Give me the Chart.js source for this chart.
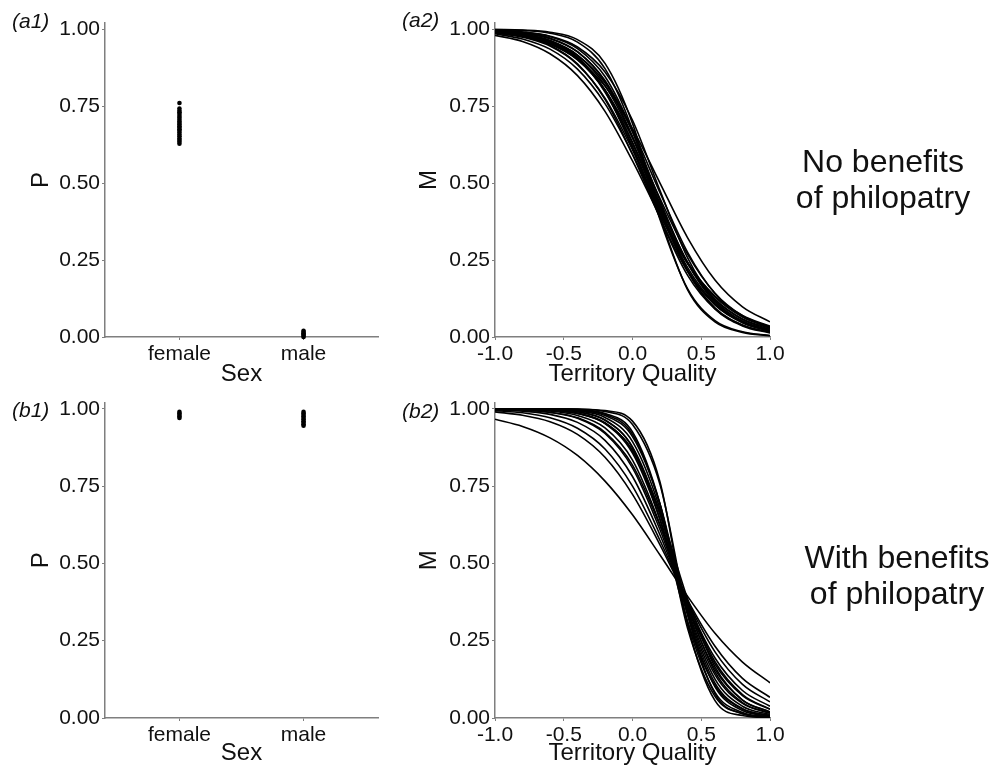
<!DOCTYPE html>
<html>
<head>
<meta charset="utf-8">
<title>Philopatry and dispersal</title>
<script src="https://cdn.jsdelivr.net/npm/chart.js@4.4.1/dist/chart.umd.min.js"></script>
<style>
  html, body { margin: 0; padding: 0; background: #fff; }
  body { position: relative; width: 994px; height: 768px; overflow: hidden;
         font-family: "Liberation Sans", Arial, sans-serif; color: #111; }
  canvas { position: absolute; }
  .tag { position: absolute; font-size: 21px; line-height: 21px; font-style: italic; }
  .scenario { position: absolute; width: 210px; text-align: center; font-size: 32px; line-height: 36px; }
</style>
</head>
<body>

<canvas id="a1" width="390" height="390" style="left:0;top:0"></canvas>
<canvas id="a2" width="404" height="390" style="left:390px;top:0"></canvas>
<canvas id="b1" width="390" height="380" style="left:0;top:388px"></canvas>
<canvas id="b2" width="404" height="380" style="left:390px;top:388px"></canvas>

<div class="tag" style="left:12px;top:10px">(a1)</div>
<div class="tag" style="left:402px;top:9px">(a2)</div>
<div class="tag" style="left:12px;top:399px">(b1)</div>
<div class="tag" style="left:402px;top:400px">(b2)</div>

<div class="scenario" style="left:778px;top:143px">No benefits<br>of philopatry</div>
<div class="scenario" style="left:792px;top:539px">With benefits<br>of philopatry</div>

<script>
var sexes = ['female', 'male'];
var pTicks = [0, 0.25, 0.5, 0.75, 1];
var qualityTicks = [-1, -0.5, 0, 0.5, 1];
var quality = [-1.0, -0.8, -0.6, -0.4, -0.2, 0.0, 0.2, 0.4, 0.6, 0.8, 1.0];

// philopatry P of each replicate run, by sex
var pFemaleNoBenefit = [0.760, 0.742, 0.735, 0.730, 0.724, 0.718, 0.712, 0.706, 0.700, 0.695,
  0.690, 0.685, 0.680, 0.675, 0.670, 0.664, 0.658, 0.652, 0.645, 0.640, 0.634, 0.628];
var pMaleNoBenefit = [0.000, 0.004, 0.008, 0.012, 0.016, 0.020];
var pFemaleWithBenefit = [0.970, 0.975, 0.980, 0.985, 0.990];
var pMaleWithBenefit = [0.945, 0.950, 0.955, 0.960, 0.965, 0.970, 0.975, 0.980, 0.985, 0.990];

// dispersal M against territory quality, one row per replicate run
var mNoBenefit = [
  [0.980, 0.960, 0.920, 0.849, 0.733, 0.572, 0.394, 0.240, 0.133, 0.070, 0.035],
  [0.985, 0.968, 0.935, 0.870, 0.758, 0.594, 0.406, 0.242, 0.130, 0.065, 0.032],
  [0.988, 0.976, 0.951, 0.902, 0.815, 0.677, 0.500, 0.323, 0.185, 0.098, 0.049],
  [0.990, 0.978, 0.953, 0.900, 0.802, 0.646, 0.450, 0.269, 0.142, 0.069, 0.032],
  [0.988, 0.974, 0.945, 0.885, 0.776, 0.608, 0.411, 0.239, 0.123, 0.059, 0.028],
  [0.991, 0.980, 0.955, 0.903, 0.800, 0.633, 0.427, 0.243, 0.122, 0.057, 0.025],
  [0.990, 0.977, 0.948, 0.887, 0.772, 0.593, 0.387, 0.214, 0.105, 0.048, 0.021],
  [0.993, 0.983, 0.962, 0.916, 0.826, 0.671, 0.469, 0.276, 0.141, 0.066, 0.030],
  [0.993, 0.982, 0.958, 0.904, 0.796, 0.619, 0.402, 0.218, 0.104, 0.046, 0.020],
  [0.993, 0.984, 0.963, 0.915, 0.817, 0.649, 0.434, 0.242, 0.117, 0.052, 0.022],
  [0.993, 0.983, 0.960, 0.908, 0.803, 0.629, 0.413, 0.226, 0.108, 0.048, 0.020],
  [0.994, 0.984, 0.962, 0.909, 0.799, 0.613, 0.387, 0.201, 0.091, 0.038, 0.016],
  [0.995, 0.987, 0.969, 0.926, 0.833, 0.666, 0.443, 0.241, 0.112, 0.048, 0.020],
  [0.996, 0.989, 0.971, 0.927, 0.830, 0.651, 0.417, 0.215, 0.095, 0.039, 0.015],
  [0.997, 0.991, 0.977, 0.942, 0.861, 0.704, 0.476, 0.258, 0.118, 0.048, 0.019],
  [0.997, 0.991, 0.976, 0.937, 0.846, 0.668, 0.426, 0.214, 0.091, 0.036, 0.013],
  [0.999, 0.996, 0.987, 0.958, 0.872, 0.673, 0.382, 0.157, 0.053, 0.017, 0.005],
  [0.999, 0.997, 0.990, 0.966, 0.889, 0.694, 0.392, 0.154, 0.049, 0.015, 0.004]
];
var mWithBenefit = [
  [0.966, 0.943, 0.906, 0.849, 0.766, 0.657, 0.527, 0.394, 0.274, 0.181, 0.114],
  [0.990, 0.979, 0.958, 0.917, 0.843, 0.723, 0.560, 0.382, 0.232, 0.128, 0.067],
  [0.994, 0.987, 0.971, 0.937, 0.870, 0.750, 0.574, 0.378, 0.214, 0.109, 0.052],
  [0.997, 0.992, 0.982, 0.956, 0.898, 0.781, 0.592, 0.371, 0.194, 0.089, 0.038],
  [0.998, 0.996, 0.988, 0.969, 0.920, 0.809, 0.609, 0.365, 0.174, 0.072, 0.028],
  [0.998, 0.996, 0.989, 0.971, 0.924, 0.818, 0.622, 0.378, 0.182, 0.076, 0.029],
  [0.999, 0.998, 0.993, 0.978, 0.938, 0.834, 0.626, 0.358, 0.157, 0.058, 0.020],
  [1.000, 0.999, 0.995, 0.985, 0.952, 0.857, 0.643, 0.352, 0.140, 0.047, 0.015],
  [1.000, 0.999, 0.996, 0.986, 0.955, 0.865, 0.659, 0.368, 0.149, 0.050, 0.016],
  [1.000, 0.998, 0.995, 0.985, 0.953, 0.865, 0.667, 0.386, 0.165, 0.058, 0.019],
  [1.000, 0.999, 0.997, 0.990, 0.963, 0.877, 0.660, 0.346, 0.126, 0.038, 0.011],
  [1.000, 0.999, 0.998, 0.991, 0.964, 0.874, 0.641, 0.314, 0.105, 0.029, 0.008],
  [1.000, 1.000, 0.998, 0.993, 0.972, 0.894, 0.676, 0.340, 0.113, 0.030, 0.008],
  [1.000, 1.000, 0.999, 0.995, 0.978, 0.910, 0.692, 0.334, 0.101, 0.024, 0.006],
  [1.000, 1.000, 0.999, 0.996, 0.982, 0.917, 0.690, 0.310, 0.083, 0.018, 0.004],
  [1.000, 1.000, 1.000, 0.997, 0.985, 0.925, 0.692, 0.291, 0.070, 0.014, 0.003],
  [1.000, 1.000, 1.000, 0.999, 0.991, 0.949, 0.755, 0.337, 0.078, 0.014, 0.002],
  [1.000, 1.000, 1.000, 0.999, 0.994, 0.960, 0.763, 0.304, 0.056, 0.008, 0.001]
];

var axisGrey = '#7f7f7f';
var ink = '#111';
var family = '"Liberation Sans", Arial, sans-serif';

function yAxis(title, titlePad) {
  return {
    min: 0,
    max: 1.02,
    afterBuildTicks: function (scale) {
      scale.ticks = pTicks.map(function (v) { return { value: v }; });
    },
    afterFit: function (scale) { scale.width = 105; },
    ticks: {
      color: ink, padding: 2, font: { family: family, size: 21 },
      callback: function (v) { return v.toFixed(2); }
    },
    grid: { drawOnChartArea: false, tickLength: 3, color: axisGrey },
    border: { color: axisGrey, width: 1.5 },
    title: {
      display: true, text: title, color: ink,
      font: { family: family, size: 24 },
      padding: { top: titlePad, bottom: 0 }
    }
  };
}

function xAxis(opts) {
  return {
    type: 'linear',
    min: opts.min,
    max: opts.max,
    afterBuildTicks: function (scale) {
      scale.ticks = opts.ticks.map(function (v) { return { value: v }; });
    },
    afterFit: function (scale) { scale.height = opts.height; },
    ticks: {
      color: ink, padding: 2, maxRotation: 0, autoSkip: false,
      font: { family: family, size: 21 },
      callback: opts.label
    },
    grid: { drawOnChartArea: false, tickLength: 3, color: axisGrey },
    border: { color: axisGrey, width: 1.5 },
    title: {
      display: true, text: opts.title, color: ink,
      font: { family: family, size: 24 },
      padding: { top: 0, bottom: opts.titlePad }
    }
  };
}

function sexLabel(v) { return sexes[v - 1]; }
function qualityLabel(v) { return v.toFixed(1); }

function stripSets(female, male) {
  return [female, male].map(function (vals, i) {
    return {
      data: vals.map(function (v) { return { x: i + 1, y: v }; }),
      backgroundColor: '#000',
      borderWidth: 0,
      pointRadius: 2.3,
      clip: false
    };
  });
}

function curveSets(rows) {
  return rows.map(function (row) {
    return {
      data: row.map(function (m, i) { return { x: quality[i], y: m }; }),
      showLine: true,
      borderColor: '#000',
      borderWidth: 1.6,
      pointRadius: 0,
      cubicInterpolationMode: 'monotone'
    };
  });
}

function draw(id, datasets, x, yTitle, yTitlePad, padding) {
  return new Chart(document.getElementById(id), {
    type: 'scatter',
    data: { datasets: datasets },
    options: {
      responsive: false,
      animation: false,
      events: [],
      layout: { padding: padding },
      plugins: { legend: { display: false }, tooltip: { enabled: false } },
      scales: { x: x, y: yAxis(yTitle, yTitlePad) }
    }
  });
}

var topPad = { left: 0, top: 23, bottom: 0 };
var lowPad = { left: 0, top: 14, bottom: 0 };

draw('a1', stripSets(pFemaleNoBenefit, pMaleNoBenefit),
  xAxis({ min: 0.4, max: 2.6, ticks: [1, 2], label: sexLabel, title: 'Sex', height: 53, titlePad: 1.6 }),
  'P', 26.6, Object.assign({ right: 12 }, topPad));

draw('a2', curveSets(mNoBenefit),
  xAxis({ min: -1, max: 1, ticks: qualityTicks, label: qualityLabel, title: 'Territory Quality', height: 53, titlePad: 1.6 }),
  'M', 24.6, Object.assign({ right: 24 }, topPad));

draw('b1', stripSets(pFemaleWithBenefit, pMaleWithBenefit),
  xAxis({ min: 0.4, max: 2.6, ticks: [1, 2], label: sexLabel, title: 'Sex', height: 50, titlePad: 0 }),
  'P', 26.6, Object.assign({ right: 12 }, lowPad));

draw('b2', curveSets(mWithBenefit),
  xAxis({ min: -1, max: 1, ticks: qualityTicks, label: qualityLabel, title: 'Territory Quality', height: 50, titlePad: 0 }),
  'M', 24.6, Object.assign({ right: 24 }, lowPad));
</script>
</body>
</html>
